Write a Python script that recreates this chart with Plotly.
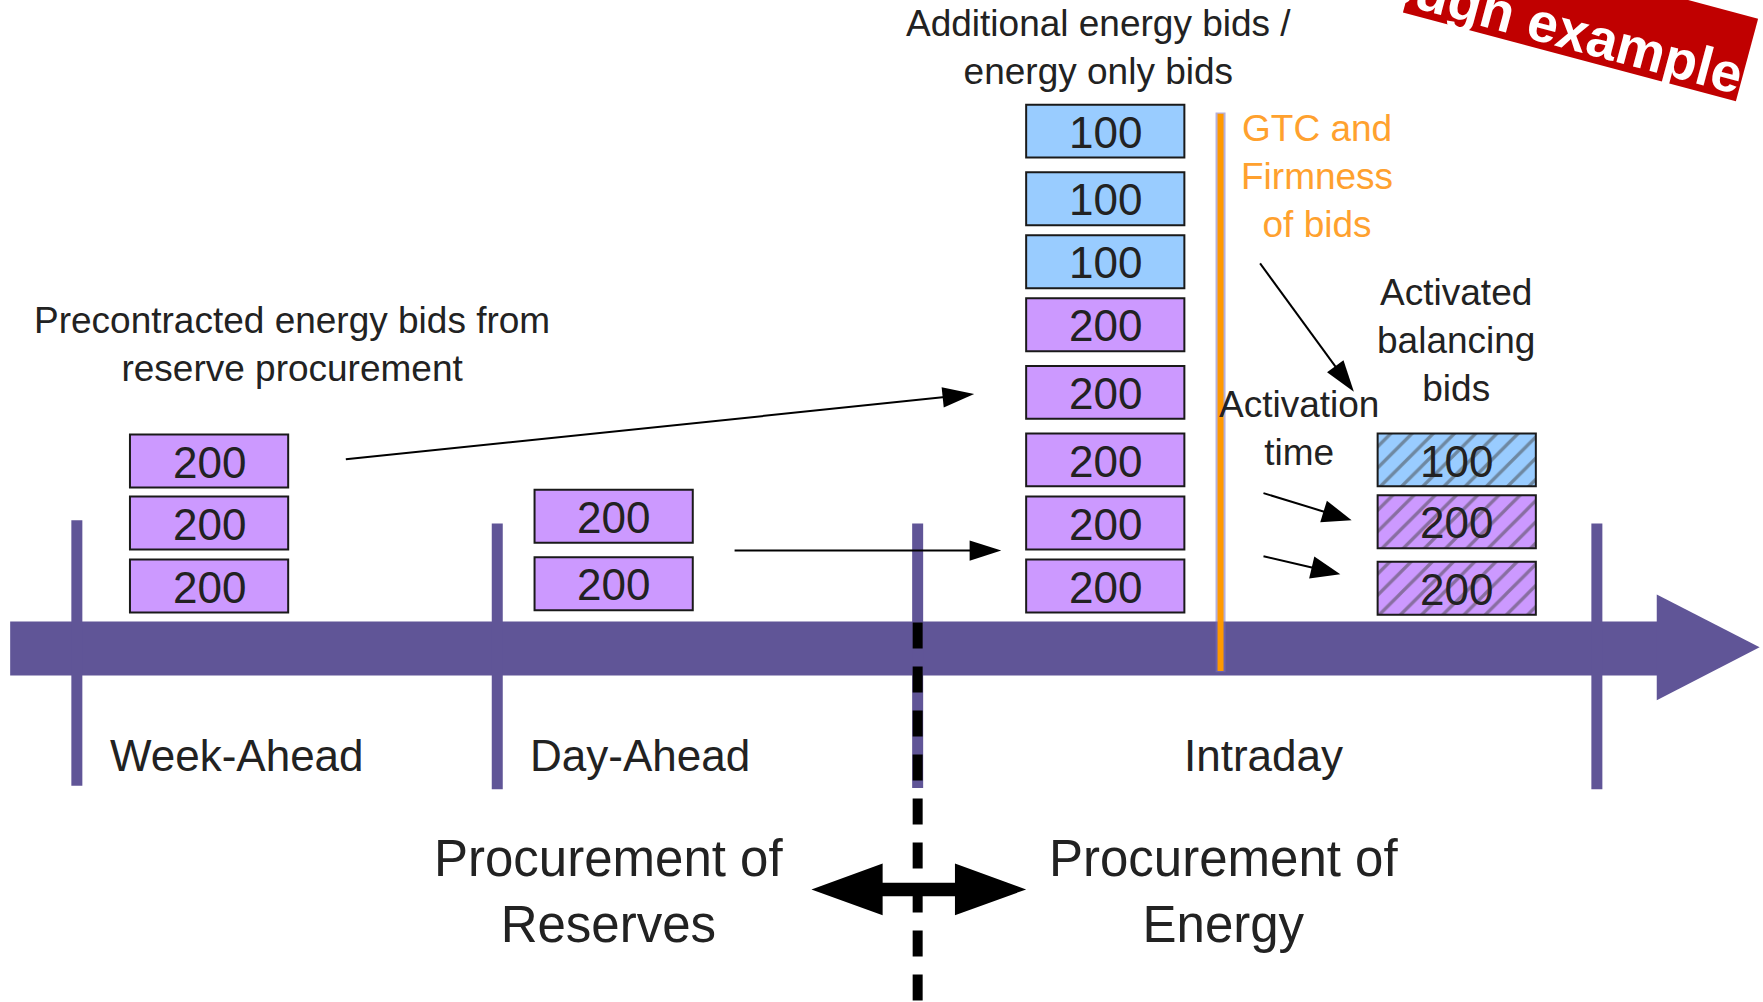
import math
import plotly.graph_objects as go

# ---------------- data ----------------
week_ahead_bids = [200, 200, 200]
day_ahead_bids = [200, 200]
additional_bids = [100, 100, 100, 200, 200, 200, 200, 200]
activated_bids = [100, 200, 200]
phase_labels = ["Week-Ahead", "Day-Ahead", "Intraday"]

# ---------------- layout constants (canvas units) ----------------
W, H = 1560, 890
FONT = "Liberation Sans, Arial, Helvetica, sans-serif"
TXT = "#222222"
PURPLE_AXIS = "rgb(96,85,151)"
BID_COLOR = {100: "#99ccff", 200: "#cc99ff"}
BOX_W = 140
BOX_H = 47

week_cx, week_tops = 185, [386, 441, 497]
day_cx, day_tops = 543, [435, 495]
add_cx, add_tops = 978, [93, 153, 209, 265, 325, 385, 441, 497]
act_cx, act_tops = 1289, [385, 440, 499]

fig = go.Figure()


def add_boxes(cx, tops, values, hatched=False):
    marker = dict(color=[BID_COLOR[v] for v in values],
                  line=dict(color="#1a1a1a", width=2))
    if hatched:
        marker["pattern"] = dict(shape="/", fgcolor="#111111", size=15, solidity=0.22)
    fig.add_trace(go.Bar(x=[cx] * len(values), y=[BOX_H] * len(values), base=tops,
                         width=[BOX_W] * len(values), marker=marker,
                         hoverinfo="skip", showlegend=False))
    for t, v in zip(tops, values):
        fig.add_annotation(x=cx, y=t + BOX_H / 2 + 1, text=str(v), showarrow=False,
                           xanchor="center", yanchor="middle",
                           font=dict(family=FONT, size=44, color=TXT))


add_boxes(week_cx, week_tops, week_ahead_bids)
add_boxes(day_cx, day_tops, day_ahead_bids)
add_boxes(add_cx, add_tops, additional_bids)
add_boxes(act_cx, act_tops, activated_bids, hatched=True)

shapes = []
# timeline band + arrow head
shapes.append(dict(type="rect", x0=9, x1=1468, y0=552, y1=600,
                   fillcolor=PURPLE_AXIS, line=dict(width=0), layer="below"))
shapes.append(dict(type="path", path="M 1466,528 L 1557,575 L 1466,622 Z",
                   fillcolor=PURPLE_AXIS, line=dict(width=0), layer="below"))
# phase separators
for x, y0, y1 in [(68, 462, 698), (440, 465, 701), (812, 465, 700), (1413, 465, 701)]:
    shapes.append(dict(type="line", x0=x, x1=x, y0=y0, y1=y1,
                       line=dict(color=PURPLE_AXIS, width=11), layer="below"))
# dashed boundary
shapes.append(dict(type="line", x0=812, x1=812, y0=553, y1=892,
                   line=dict(color="black", width=10, dash="26px,18px")))
# double arrow
shapes.append(dict(type="path",
                   path="M 718,790 L 781,767 L 781,784 L 845,784 L 845,767 L 908,790 "
                        "L 845,813 L 845,796 L 781,796 L 781,813 Z",
                   fillcolor="black", line=dict(width=0)))
# GTC line
shapes.append(dict(type="line", x0=1080, x1=1080, y0=100, y1=597,
                   line=dict(color="rgba(120,110,190,0.55)", width=10)))
shapes.append(dict(type="line", x0=1080, x1=1080, y0=101, y1=596,
                   line=dict(color="#ff9900", width=6)))


def arrow(x0, y0, x1, y1, hl=28, hw=9):
    dx, dy = x1 - x0, y1 - y0
    L = math.hypot(dx, dy)
    ux, uy = dx / L, dy / L
    nx, ny = -uy, ux
    bx, by = x1 - hl * ux, y1 - hl * uy
    shapes.append(dict(type="line", x0=x0, y0=y0, x1=bx + 2 * ux, y1=by + 2 * uy,
                       line=dict(color="black", width=2)))
    shapes.append(dict(type="path",
                       path=f"M {x1},{y1} L {bx + hw * nx},{by + hw * ny} L {bx - hw * nx},{by - hw * ny} Z",
                       fillcolor="black", line=dict(width=0)))


arrow(306, 408, 862, 350)
arrow(650, 489, 886, 489)
arrow(1115, 234, 1198, 348)
arrow(1118, 438, 1196, 462, hl=26, hw=10)
arrow(1118, 494, 1186, 510, hl=26, hw=10)

# "Rough example" banner
ANG = 15.0
ang = math.radians(ANG)
ux, uy = math.cos(ang), math.sin(ang)
nx, ny = -uy, ux
BRx, BRy = 1536, 90
thick, length = 76, 305
TRx, TRy = BRx - thick * nx, BRy - thick * ny
BLx, BLy = BRx - length * ux, BRy - length * uy
TLx, TLy = BLx - thick * nx, BLy - thick * ny
shapes.append(dict(type="path",
                   path=f"M {BRx},{BRy} L {TRx},{TRy} L {TLx},{TLy} L {BLx},{BLy} Z",
                   fillcolor="#c00000", line=dict(width=0)))

fig.update_layout(shapes=shapes)

# text labels
def label(x, y, text, size=37, color=TXT, **kw):
    fig.add_annotation(x=x, y=y, text=text, showarrow=False, xanchor="center",
                       yanchor="middle", align="center",
                       font=dict(family=FONT, size=size, color=color), **kw)


label(972, 42, "Additional energy bids /<br>energy only bids")
label(258, 306, "Precontracted energy bids from<br>reserve procurement")
label(1165, 157, "GTC and<br>Firmness<br>of bids", color="#ffa12e")
label(1149, 381, "Activation<br>time")
label(1288, 302, "Activated<br>balancing<br>bids")
for x, t in zip([210, 566, 1118], phase_labels):
    label(x, 671, t, size=44)
label(538, 792, "Procurement of<br>Reserves", size=51)
label(1083, 792, "Procurement of<br>Energy", size=51)

cx_b = BRx - (thick / 2 - 15) * nx - 182 * ux
cy_b = BRy - (thick / 2 - 15) * ny - 182 * uy
fig.add_annotation(x=cx_b, y=cy_b, text="<b>Rough example</b>", showarrow=False,
                   textangle=ANG, xanchor="center", yanchor="middle",
                   font=dict(family=FONT, size=55, color="white"))

fig.update_layout(
    width=1763, height=1002,
    margin=dict(l=0, r=0, t=0, b=0),
    paper_bgcolor="white", plot_bgcolor="white",
    barmode="overlay", showlegend=False,
    xaxis=dict(range=[0, W], visible=False, fixedrange=True),
    yaxis=dict(range=[H, 0], visible=False, fixedrange=True),
)

fig.write_html("out.html", config={"displayModeBar": False},
               post_script="document.body.style.margin='0';document.body.style.overflow='hidden';")
